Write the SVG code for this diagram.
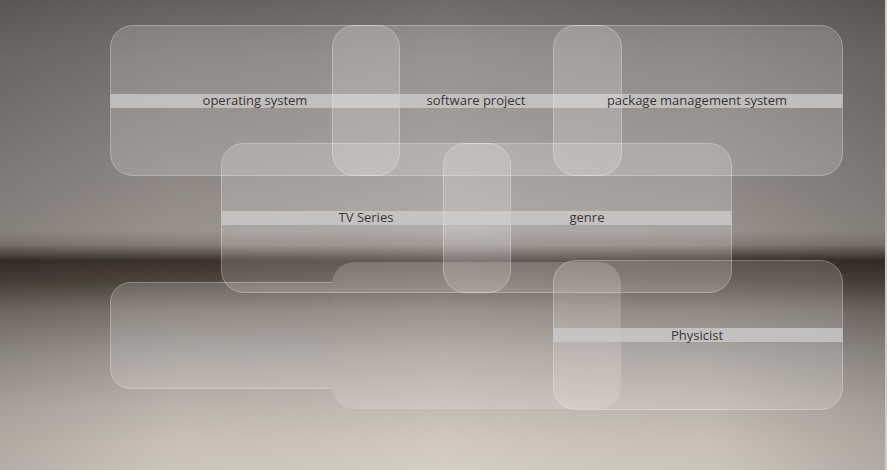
<svg xmlns="http://www.w3.org/2000/svg" width="887" height="470" viewBox="0 0 887 470">
  <defs>
    <linearGradient id="bg" x1="0" y1="0" x2="0" y2="1">
      <stop offset="0" stop-color="#696360"/>
      <stop offset="0.12" stop-color="#7c7672"/>
      <stop offset="0.33" stop-color="#8f8985"/>
      <stop offset="0.49" stop-color="#9d9691"/>
      <stop offset="0.52" stop-color="#8a817b"/>
      <stop offset="0.555" stop-color="#3d322c"/>
      <stop offset="0.6" stop-color="#52483f"/>
      <stop offset="0.66" stop-color="#7d756f"/>
      <stop offset="0.75" stop-color="#a19a95"/>
      <stop offset="0.86" stop-color="#c1b8b0"/>
      <stop offset="0.94" stop-color="#cfc5bc"/>
      <stop offset="1" stop-color="#d4cbc2"/>
    </linearGradient>
    <linearGradient id="vig" x1="0" y1="0" x2="1" y2="0">
      <stop offset="0" stop-color="#000" stop-opacity="0.14"/>
      <stop offset="0.2" stop-color="#000" stop-opacity="0.03"/>
      <stop offset="0.5" stop-color="#fff" stop-opacity="0.05"/>
      <stop offset="0.8" stop-color="#000" stop-opacity="0.03"/>
      <stop offset="1" stop-color="#000" stop-opacity="0.16"/>
    </linearGradient>
    <clipPath id="clipA3">
      <rect x="0" y="0" width="332" height="470"/>
    </clipPath>
    <style>
      .card { fill: #ffffff; fill-opacity: 0.17; stroke: #ffffff; stroke-opacity: 0.32; stroke-width: 1; }
      .ghost { fill: #f4ece8; fill-opacity: 0.2; stroke: none; }
      .band { fill: #cbc9c8; fill-opacity: 0.82; }
      .label { font-family: "Open Sans", "DejaVu Sans", sans-serif; font-size: 13px; fill: #3a3439; text-anchor: middle; }
    </style>
  </defs>

  <rect x="0" y="0" width="887" height="470" fill="url(#bg)"/>
  <rect x="0" y="0" width="887" height="470" fill="url(#vig)"/>
  <rect x="885" y="0" width="2" height="470" fill="#cfcdcb"/>

  <g id="node-operating-system">
    <rect class="card" x="110.5" y="25.5" width="289" height="150" rx="22"/>
    <rect class="band" x="110.5" y="94" width="289" height="14"/>
    <text class="label" x="255" y="105">operating system</text>
  </g>
  <g id="node-software-project">
    <rect class="card" x="332.5" y="25.5" width="289" height="150" rx="22"/>
    <rect class="band" x="332.5" y="94" width="289" height="14"/>
    <text class="label" x="476" y="105">software project</text>
  </g>
  <g id="node-package-management-system">
    <rect class="card" x="553.5" y="25.5" width="289" height="150" rx="22"/>
    <rect class="band" x="553.5" y="94" width="289" height="14"/>
    <text class="label" x="697" y="105">package management system</text>
  </g>

  <g id="node-tv-series">
    <rect class="card" x="221.5" y="143.5" width="289" height="149" rx="22"/>
    <rect class="band" x="221.5" y="211" width="289" height="14"/>
    <text class="label" x="366" y="222">TV Series</text>
  </g>
  <g id="node-genre">
    <rect class="card" x="443.5" y="143.5" width="288" height="149" rx="22"/>
    <rect class="band" x="443.5" y="211" width="288" height="14"/>
    <text class="label" x="587" y="222">genre</text>
  </g>

  <g id="node-row3-left" clip-path="url(#clipA3)">
    <rect class="card" x="110.5" y="282.5" width="289" height="106" rx="20"/>
  </g>
  <g id="node-row3-middle">
    <rect class="ghost" x="332" y="262" width="289" height="147" rx="22"/>
  </g>
  <g id="node-physicist">
    <rect class="card" x="553.5" y="260.5" width="289" height="149" rx="22"/>
    <rect class="band" x="553.5" y="328" width="289" height="14"/>
    <text class="label" x="697" y="339.5">Physicist</text>
  </g>

  <g id="connectors"/>
</svg>
